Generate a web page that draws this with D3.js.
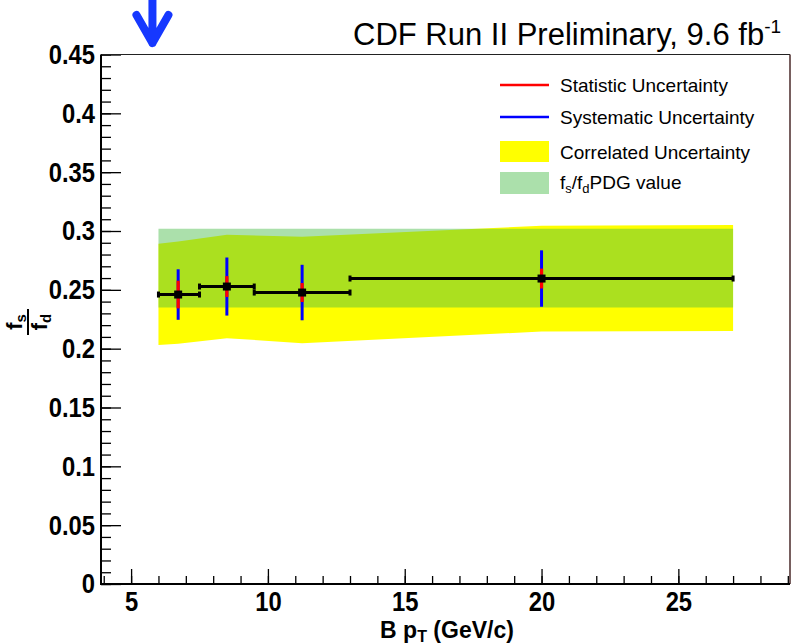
<!DOCTYPE html>
<meta charset="utf-8">
<script src="https://d3js.org/d3.v7.min.js"></script>
<style>
  body { margin: 0; background: #fff; }
  svg text { font-family: "Liberation Sans", Arial, Helvetica, sans-serif; }
</style>
<div id="viz"></div>
<script>
// B pT bins (GeV/c) and measured fs/fd
var binLow  = [6, 7.5, 9.5, 13];
var binHigh = [7.5, 9.5, 13, 27];
var ptMean  = [6.72, 8.5, 11.25, 20];
var fsfd    = [0.246, 0.2528, 0.2477, 0.2596];
var statErr = [0.0104, 0.0075, 0.0067, 0.0071];
var systErr = [0.0202, 0.0234, 0.0223, 0.0227];

// correlated uncertainty band
var bandX  = [6, 6.72, 8.5, 11.25, 20, 27];
var bandLo = [0.2032, 0.2041, 0.2089, 0.2047, 0.2145, 0.2151];
var bandHi = [0.2891, 0.2911, 0.2968, 0.2951, 0.3044, 0.3050];

// PDG value band
var pdgX  = [6, 27];
var pdgLo = [0.235, 0.235];
var pdgHi = [0.302, 0.302];

var xMajor = [5, 10, 15, 20, 25];
var yMajor = [0, 0.05, 0.1, 0.15, 0.2, 0.25, 0.3, 0.35, 0.4, 0.45];

var W = 795, H = 644;
var margin = {top: 54.5, right: 5, bottom: 60, left: 101};

var svg = d3.select("#viz").append("svg")
  .attr("width", W).attr("height", H);

var x = d3.scaleLinear().domain([3.9, 29.08]).range([margin.left, W - margin.right]);
var y = d3.scaleLinear().domain([0, 0.45]).range([H - margin.bottom, margin.top]);

// PDG fill: light translucent green (dotted fill in the original)
var pdgFill = "#44bb44", pdgOpacity = 0.45;

// correlated band (yellow)
var band = d3.area()
  .x(function(d, i) { return x(bandX[i]); })
  .y0(function(d, i) { return y(bandLo[i]); })
  .y1(function(d, i) { return y(bandHi[i]); });
svg.append("path").datum(bandX).attr("d", band).attr("fill", "#ffff00");

// PDG band
var pdg = d3.area()
  .x(function(d, i) { return x(pdgX[i]); })
  .y0(function(d, i) { return y(pdgLo[i]); })
  .y1(function(d, i) { return y(pdgHi[i]); });
svg.append("path").datum(pdgX).attr("d", pdg)
  .attr("fill", pdgFill).attr("fill-opacity", pdgOpacity);

// axes: minor ticks then major ticks, pointing inward
var yBottom = H - margin.bottom;
function styleLabels(g) {
  g.select(".domain").remove();
  g.selectAll("line").attr("stroke-width", 1.3);
  // narrow bold digits like the original
  g.selectAll("text").attr("font-size", 28).attr("font-weight", "bold").attr("fill", "#000")
    .attr("font-family", "'Liberation Sans', Arial, sans-serif")
    .attr("transform", "scale(0.85,1)");
}
svg.append("g").attr("transform", "translate(" + margin.left + ",0)")
  .call(d3.axisLeft(y).tickValues(d3.range(0, 0.451, 0.01)).tickSize(-10).tickFormat(""))
  .call(styleLabels);
svg.append("g").attr("transform", "translate(" + margin.left + ",0)")
  .call(d3.axisLeft(y).tickValues(yMajor).tickSize(-20).tickPadding(7)
    .tickFormat(function(d) { return String(+d.toFixed(2)); }))
  .call(styleLabels);

svg.append("g").attr("transform", "translate(0," + yBottom + ")")
  .call(d3.axisBottom(x).tickValues(d3.range(4, 29.5, 1)).tickSize(-8).tickFormat(""))
  .call(styleLabels);
svg.append("g").attr("transform", "translate(0," + yBottom + ")")
  .call(d3.axisBottom(x).tickValues(xMajor).tickSize(-15).tickPadding(7))
  .call(styleLabels);

// frame
svg.append("line").attr("x1", x.range()[0]).attr("x2", x.range()[1])
  .attr("y1", y(0.45)).attr("y2", y(0.45)).attr("stroke", "#222").attr("stroke-width", 1.2);
svg.append("line").attr("x1", x.range()[1]).attr("x2", x.range()[1])
  .attr("y1", y(0.45)).attr("y2", yBottom).attr("stroke", "#4a2a2a").attr("stroke-width", 1.5);
svg.append("line").attr("x1", x.range()[0]).attr("x2", x.range()[0])
  .attr("y1", y(0.45)).attr("y2", yBottom + 1).attr("stroke", "#000").attr("stroke-width", 2);
svg.append("line").attr("x1", x.range()[0] - 1).attr("x2", x.range()[1])
  .attr("y1", yBottom).attr("y2", yBottom).attr("stroke", "#000").attr("stroke-width", 2);

// data points
var idx = d3.range(fsfd.length);
var pts = svg.append("g");
// systematic (blue)
pts.selectAll(".sys").data(idx).enter().append("line")
  .attr("x1", function(i) { return x(ptMean[i]); }).attr("x2", function(i) { return x(ptMean[i]); })
  .attr("y1", function(i) { return y(fsfd[i] - systErr[i]); })
  .attr("y2", function(i) { return y(fsfd[i] + systErr[i]); })
  .attr("stroke", "#0000ff").attr("stroke-width", 3).attr("stroke-linecap", "square");
// statistic (red)
pts.selectAll(".stat").data(idx).enter().append("line")
  .attr("x1", function(i) { return x(ptMean[i]); }).attr("x2", function(i) { return x(ptMean[i]); })
  .attr("y1", function(i) { return y(fsfd[i] - statErr[i]); })
  .attr("y2", function(i) { return y(fsfd[i] + statErr[i]); })
  .attr("stroke", "#ff0000").attr("stroke-width", 3.2).attr("stroke-linecap", "square");
// bin width (black)
pts.selectAll(".xerr").data(idx).enter().append("line")
  .attr("x1", function(i) { return x(binLow[i]); }).attr("x2", function(i) { return x(binHigh[i]); })
  .attr("y1", function(i) { return y(fsfd[i]); }).attr("y2", function(i) { return y(fsfd[i]); })
  .attr("stroke", "#000").attr("stroke-width", 3);
pts.selectAll(".capL").data(idx).enter().append("rect")
  .attr("x", function(i) { return x(binLow[i]) - 1.5; }).attr("y", function(i) { return y(fsfd[i]) - 3; })
  .attr("width", 3).attr("height", 6).attr("fill", "#000");
pts.selectAll(".capR").data(idx).enter().append("rect")
  .attr("x", function(i) { return x(binHigh[i]) - 1.5; }).attr("y", function(i) { return y(fsfd[i]) - 3; })
  .attr("width", 3).attr("height", 6).attr("fill", "#000");
pts.selectAll(".mk").data(idx).enter().append("rect")
  .attr("x", function(i) { return x(ptMean[i]) - 4; }).attr("y", function(i) { return y(fsfd[i]) - 4; })
  .attr("width", 8).attr("height", 8).attr("fill", "#000");

// legend
var lg = svg.append("g").attr("font-size", 19);
var lx = 500, lw = 49, tx = 560;
lg.append("line").attr("x1", lx).attr("x2", lx + lw).attr("y1", 85).attr("y2", 85)
  .attr("stroke", "#ff0000").attr("stroke-width", 2.5);
lg.append("text").attr("x", tx).attr("y", 92).text("Statistic Uncertainty");
lg.append("line").attr("x1", lx).attr("x2", lx + lw).attr("y1", 117).attr("y2", 117)
  .attr("stroke", "#0000ff").attr("stroke-width", 2.5);
lg.append("text").attr("x", tx).attr("y", 124).text("Systematic Uncertainty");
lg.append("rect").attr("x", lx).attr("y", 141).attr("width", lw).attr("height", 21).attr("fill", "#ffff00");
lg.append("text").attr("x", tx).attr("y", 159).text("Correlated Uncertainty");
lg.append("rect").attr("x", lx).attr("y", 172).attr("width", lw).attr("height", 22)
  .attr("fill", pdgFill).attr("fill-opacity", pdgOpacity);
var pt = lg.append("text").attr("x", tx).attr("y", 189);
pt.append("tspan").text("f");
pt.append("tspan").attr("font-size", 13).attr("dy", 4).text("s");
pt.append("tspan").attr("dy", -4).text("/f");
pt.append("tspan").attr("font-size", 13).attr("dy", 4).text("d");
pt.append("tspan").attr("dy", -4).text("PDG value");

// title
var tt = svg.append("text").attr("x", 353).attr("y", 45).attr("font-size", 31);
tt.append("tspan").text("CDF Run II Preliminary, 9.6 fb");
tt.append("tspan").attr("font-size", 19).attr("dy", -12).text("-1");

// axis titles
var xt = svg.append("text").attr("x", 447).attr("y", 638).attr("text-anchor", "middle")
  .attr("font-size", 23).attr("font-weight", "bold");
xt.append("tspan").text("B p");
xt.append("tspan").attr("font-size", 16).attr("dy", 4).text("T");
xt.append("tspan").attr("dy", -4).text(" (GeV/c)");

var yt = svg.append("g").attr("transform", "translate(28,322) rotate(-90)")
  .attr("font-weight", "bold").attr("font-size", 22);
var num = yt.append("text").attr("y", -6).attr("text-anchor", "middle");
num.append("tspan").text("f");
num.append("tspan").attr("font-size", 15).attr("dy", 4).text("s");
yt.append("line").attr("x1", -13).attr("x2", 13).attr("y1", 0).attr("y2", 0)
  .attr("stroke", "#000").attr("stroke-width", 2);
var den = yt.append("text").attr("y", 19).attr("text-anchor", "middle");
den.append("tspan").text("f");
den.append("tspan").attr("font-size", 15).attr("dy", 4).text("d");

// blue arrow annotation
var ax = x(5.78);
svg.append("path")
  .attr("d", "M" + ax + ",0 L" + ax + ",43 M" + (ax - 16) + ",15 L" + ax + ",43 L" + (ax + 16) + ",15")
  .attr("fill", "none").attr("stroke", "#1638ff").attr("stroke-width", 8)
  .attr("stroke-linecap", "round").attr("stroke-linejoin", "round");
</script>
